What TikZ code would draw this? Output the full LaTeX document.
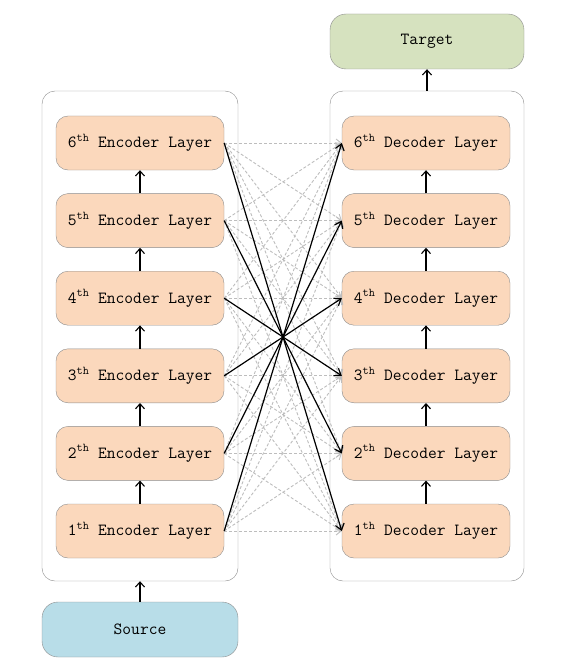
\documentclass[tikz,border=0pt]{standalone}
\usepackage{fontspec}
\usetikzlibrary{arrows.meta}
\definecolor{peach}{HTML}{FBD8BC}
\definecolor{tgreen}{HTML}{D6E2BF}
\definecolor{sblue}{HTML}{B8DDE8}
\definecolor{edgegray}{HTML}{8C8C8C}
\definecolor{dashgray}{HTML}{BDBDBD}
\tikzset{
  layerbox/.style={draw=edgegray, fill=peach, rounded corners=12pt, minimum width=168pt, minimum height=54pt, inner sep=0pt, font=\ttfamily\fontsize{17}{20}\selectfont},
  container/.style={draw=edgegray, rounded corners=13pt, minimum width=196pt, minimum height=490pt, inner sep=0pt},
  iobox/.style={draw=edgegray, rounded corners=16pt, minimum width=196pt, minimum height=55pt, inner sep=0pt, font=\ttfamily\fontsize{17}{20}\selectfont},
  uparrow/.style={-{Straight Barb[length=5pt,width=9pt]}, line width=1.1pt, black},
  solidcross/.style={-{Straight Barb[length=6pt,width=9pt]}, line width=1.2pt, black},
  dashcross/.style={-{Straight Barb[length=5pt,width=8pt]}, line width=0.9pt, dashgray, dash pattern=on 3pt off 2pt},
}
\begin{document}
\begin{tikzpicture}[x=1pt,y=-1pt]
\useasboundingbox (0,0) rectangle (572,666);
\node[container] (encbox) at (140,336) {};
\node[container, minimum width=194pt] (decbox) at (427,336) {};
\node[iobox, fill=tgreen, minimum width=194pt] (target) at (427,41.5) {Target};
\node[iobox, fill=sblue] (source) at (140,629.5) {Source};
\foreach \k/\n in {1/6,2/5,3/4,4/3,5/2,6/1}{
  \pgfmathsetmacro{\yy}{143+77.6*(\k-1)}
  \node[layerbox] (enc\n) at (140,\yy) {\n\textsuperscript{th} Encoder Layer};
  \node[layerbox] (dec\n) at (426,\yy) {\n\textsuperscript{th} Decoder Layer};
}
\foreach \i in {1,...,5}{
  \pgfmathtruncatemacro{\j}{\i+1}
  \draw[uparrow] (enc\i.north) -- (enc\j.south);
  \draw[uparrow] (dec\i.north) -- (dec\j.south);
}
\draw[uparrow] (source.north) -- (encbox.south);
\draw[uparrow] (decbox.north) -- (target.south);
\foreach \i in {1,...,6}{
  \foreach \j in {1,...,6}{
    \pgfmathtruncatemacro{\s}{\i+\j}
    \ifnum\s=7\else
      \draw[dashcross] (enc\i.east) -- (dec\j.west);
    \fi
  }
}
\foreach \i in {1,...,6}{
  \pgfmathtruncatemacro{\j}{7-\i}
  \draw[solidcross] (enc\i.east) -- (dec\j.west);
}
\end{tikzpicture}
\end{document}
